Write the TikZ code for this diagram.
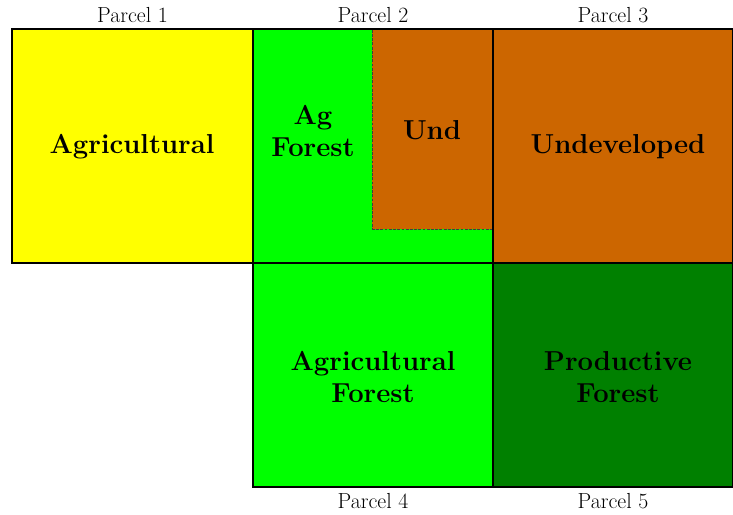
\documentclass[tikz,border=0pt]{standalone}
\usepackage{fontspec}
\usepackage{tikz}
\usetikzlibrary{positioning}
\definecolor{agYellow}{RGB}{255,255,0}
\definecolor{agGreen}{RGB}{0,255,0}
\definecolor{undBrown}{RGB}{204,102,0}
\definecolor{prodGreen}{RGB}{0,128,0}

\begin{document}
\begin{tikzpicture}[
        parcel/.style={draw=black, line width=1.4pt, inner sep=0pt, outer sep=0pt,
          minimum width=6cm, minimum height=5.85cm},
        lower/.style={parcel, minimum height=5.6cm},
        use/.style={font=\fontsize{19.5}{22.7}\selectfont\bfseries, align=center},
        caption/.style={font=\fontsize{15.5}{18}\selectfont, inner sep=0pt},
        subarea/.style={draw=black!75, line width=0.6pt, dash pattern=on 2pt off 1pt,
          fill=undBrown, inner sep=0pt, outer sep=0pt,
          minimum width=3.025cm, minimum height=5cm},
      ]
        \useasboundingbox (0,0) rectangle (18.325,12.875);
        % top row
        \node[parcel, fill=agYellow, minimum width=6.025cm] (p1) at (3.3125, 9.225) {};
        \node[parcel, fill=agGreen, draw=none] (p2) at (9.325, 9.225) {};
        \node[subarea] (und) at (10.8125, 9.65) {};
        \draw[line width=1.4pt] (p2.north west) rectangle (p2.south east);
        \node[parcel, fill=undBrown] (p3) at (15.325, 9.225) {};
        % bottom row
        \node[lower, fill=agGreen] (p4) at (9.325, 3.5) {};
        \node[lower, fill=prodGreen] (p5) at (15.325, 3.5) {};

        \node[use] (agri) at (3.3, 9.2) {Agricultural};
        \node[use] (agfor) at (7.825, 9.6) {Ag\\Forest};
        \node[use] (undshort) at (10.8, 9.62) {Und};
        \node[use] (undev) at (15.45, 9.2) {Undeveloped};
        \node[use] (agforest) at (9.325, 3.45) {Agricultural\\Forest};
        \node[use] (prod) at (15.45, 3.45) {Productive\\Forest};

        \node[caption, above=4pt of p1] (c1) {Parcel 1};
        \node[caption, above=4pt of p2] (c2) {Parcel 2};
        \node[caption, above=4pt of p3] (c3) {Parcel 3};
        \node[caption, below=4pt of p4] (c4) {Parcel 4};
        \node[caption, below=4pt of p5] (c5) {Parcel 5};
      \end{tikzpicture}
\end{document}
